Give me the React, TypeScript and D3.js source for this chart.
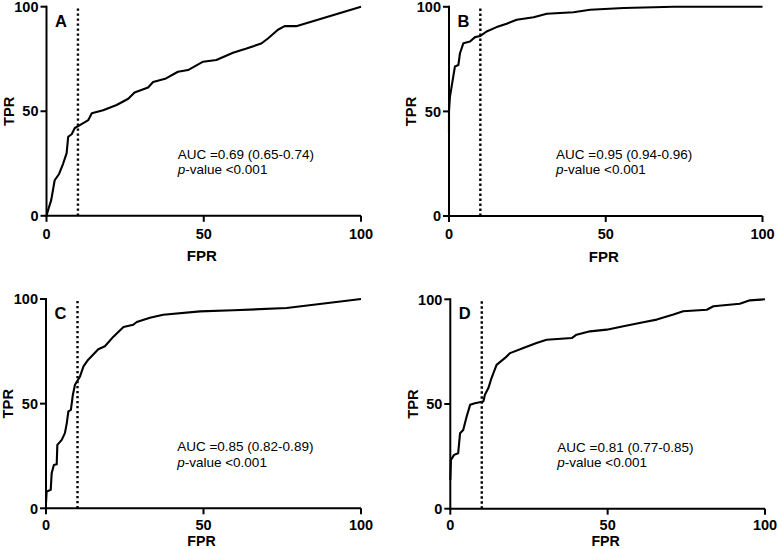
import React from "react";
import * as d3 from "d3";

// ---------- data ----------
const panelIds = ["A", "B", "C", "D"];
const axisTicks = [0, 50, 100];
const cutoffFPR = 10;

const aucLabels = [
  "AUC =0.69 (0.65-0.74)",
  "AUC =0.95 (0.94-0.96)",
  "AUC =0.85 (0.82-0.89)",
  "AUC =0.81 (0.77-0.85)",
];
const pLabel = "-value <0.001";

const fprA = [0, 0.5, 1.5, 2.6, 4.0, 5.3, 6.4, 6.9, 8, 9, 10.6, 13.3, 14.4, 18, 22.3, 26, 28, 32.3, 33.9, 38, 41.8, 45, 49.8, 54, 59.3, 63.6, 68.3, 70.4, 73.6, 75.7, 79.4, 100];
const tprA = [0, 2.7, 7.5, 17, 20, 25, 30, 37.8, 39, 42, 43.4, 45.8, 49, 50.5, 53, 56, 59, 61.4, 64, 65.7, 68.9, 69.7, 73.7, 74.5, 78, 80, 82.4, 84.8, 89, 90.7, 90.7, 100];

const fprB = [0, 0, 0.3, 0.85, 1.4, 1.9, 3.0, 3.5, 4.6, 6.7, 8.3, 9.9, 12, 15.2, 18.4, 21.6, 27, 31.2, 39.7, 45, 55.7, 71.7, 100];
const tprB = [39.5, 50, 57, 62, 67, 71.5, 72.2, 77.8, 82.6, 83.4, 85.5, 86, 88.2, 90.3, 91.9, 93.8, 95, 96.7, 97.4, 98.6, 99.4, 100, 100];

const fprC = [0, 0.2, 1.5, 1.8, 2.5, 3.4, 3.6, 5, 6, 6.6, 7.1, 7.9, 8.5, 9.2, 10.8, 11.9, 13.4, 16.6, 18.7, 21.4, 24.6, 27.7, 28.8, 33, 37.2, 48.9, 59.5, 76.4, 100];
const tprC = [2.4, 8, 8.8, 16.7, 20.7, 21, 30.3, 32.7, 35.9, 40.7, 46.3, 47, 54, 59, 63, 67.8, 71, 76, 77.4, 82, 86.6, 87.7, 89, 91, 92.5, 94.1, 94.6, 95.7, 100];

const fprD = [0, 0.2, 1.2, 2.5, 3.1, 4.1, 5.2, 6.3, 7.8, 10.5, 11, 12.1, 13.1, 14.7, 17.4, 19, 23.2, 27.4, 30.6, 38.6, 40.1, 44.4, 49.7, 55, 61.3, 65.6, 70.9, 74, 81.5, 83.6, 92, 95.2, 100];
const tprD = [13.7, 23.3, 25.7, 26.5, 36, 37.6, 44, 49.6, 50.4, 51.2, 54.4, 57.6, 62.4, 68.7, 72, 74.3, 76.7, 79.1, 80.7, 81.5, 83.1, 84.7, 85.5, 87.1, 89, 90.3, 92.7, 94.3, 95, 96.7, 97.9, 99.5, 100];

const fprSeries = [fprA, fprB, fprC, fprD];
const tprSeries = [tprA, tprB, tprC, tprD];

// ---------- layout ----------
const layout = [
  { left: 46.5, right: 361, top: 6.7, bottom: 215.8, xLabelY: 261.3, xLabelSize: 15, tickDy: 23 },
  { left: 449, right: 762.5, top: 6.8, bottom: 216, xLabelY: 261.5, xLabelSize: 15, tickDy: 23 },
  { left: 46, right: 361, top: 299, bottom: 508.3, xLabelY: 545.8, xLabelSize: 14.2, tickDy: 21.4 },
  { left: 450.3, right: 765, top: 299.3, bottom: 508.7, xLabelY: 545.8, xLabelSize: 14.2, tickDy: 21 },
];

const FONT = "'Liberation Sans', Arial, Helvetica, sans-serif";

function Panel({ i }: { i: number }) {
  const L = layout[i];
  const x = d3.scaleLinear().domain([0, 100]).range([L.left, L.right]);
  const y = d3.scaleLinear().domain([0, 100]).range([L.bottom, L.top]);
  const pts: [number, number][] = fprSeries[i].map((f, k) => [f, tprSeries[i][k]]);
  const line = d3
    .line<[number, number]>()
    .x((d) => x(d[0]))
    .y((d) => y(d[1]));
  const tickLen = 6;
  const cx = (L.left + L.right) / 2;
  const cy = (L.top + L.bottom) / 2;
  const annX = L.left + (i % 2 === 0 ? 131.2 : 107);
  return (
    <g>
      {/* cutoff dotted line */}
      <line
        x1={x(cutoffFPR)}
        x2={x(cutoffFPR)}
        y1={y(0)}
        y2={y(100)}
        stroke="#000"
        strokeWidth={2.4}
        strokeDasharray="2.4 2.6"
      />
      {/* ROC curve */}
      <path d={line(pts) || ""} fill="none" stroke="#000" strokeWidth={2.1} strokeLinejoin="round" />
      {/* axes */}
      <line x1={x(0)} x2={x(100)} y1={y(0)} y2={y(0)} stroke="#000" strokeWidth={2} />
      <line x1={x(0)} x2={x(0)} y1={y(0) + 1} y2={y(100) - 1} stroke="#000" strokeWidth={2} />
      {axisTicks.map((t) => (
        <g key={"x" + t}>
          <line x1={x(t)} x2={x(t)} y1={y(0)} y2={y(0) + tickLen} stroke="#000" strokeWidth={2} />
          <text
            x={x(t)}
            y={y(0) + L.tickDy}
            textAnchor="middle"
            fontFamily={FONT}
            fontWeight="bold"
            fontSize={14.5}
          >
            {t}
          </text>
        </g>
      ))}
      {axisTicks.map((t) => (
        <g key={"y" + t}>
          <line x1={x(0) - tickLen} x2={x(0)} y1={y(t)} y2={y(t)} stroke="#000" strokeWidth={2} />
          <text
            x={x(0) - 8}
            y={y(t) + 5.2}
            textAnchor="end"
            fontFamily={FONT}
            fontWeight="bold"
            fontSize={14.5}
          >
            {t}
          </text>
        </g>
      ))}
      {/* axis titles */}
      <text
        x={cx - 2}
        y={L.xLabelY}
        textAnchor="middle"
        fontFamily={FONT}
        fontWeight="bold"
        fontSize={L.xLabelSize}
      >
        FPR
      </text>
      <text
        transform={`translate(${L.left - 32.8},${cy}) rotate(-90)`}
        textAnchor="middle"
        fontFamily={FONT}
        fontWeight="bold"
        fontSize={14.8}
      >
        TPR
      </text>
      {/* panel letter */}
      <text x={L.left + 8.5} y={L.top + 20} fontFamily={FONT} fontWeight="bold" fontSize={16.5}>
        {panelIds[i]}
      </text>
      {/* annotation */}
      <text x={annX} y={L.top + 152.3} fontFamily={FONT} fontSize={13.5}>
        {aucLabels[i]}
      </text>
      <text x={annX} y={L.top + 167.6} fontFamily={FONT} fontSize={13.5}>
        <tspan fontStyle="italic">p</tspan>
        {pLabel}
      </text>
    </g>
  );
}

export default function App() {
  return (
    <svg
      width={778}
      height={549}
      style={{ position: "absolute", left: 0, top: 0, display: "block", background: "#fff" }}
    >
      <rect width={778} height={549} fill="#fff" />
      {panelIds.map((_, i) => (
        <Panel key={i} i={i} />
      ))}
    </svg>
  );
}
